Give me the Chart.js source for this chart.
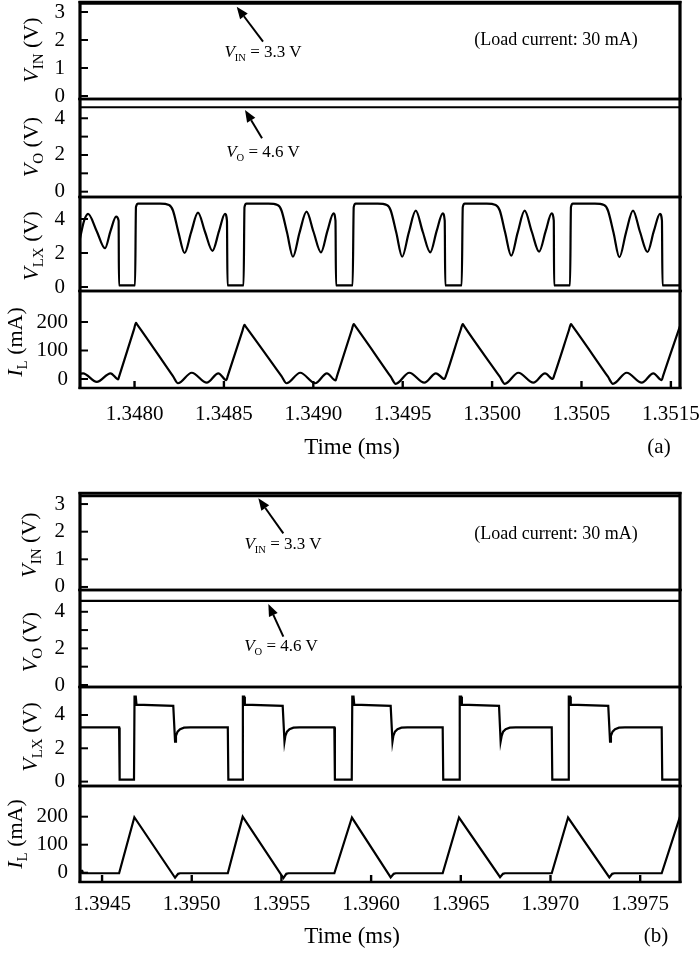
<!DOCTYPE html>
<html>
<head>
<meta charset="utf-8">
<script src="https://cdn.jsdelivr.net/npm/chart.js@4.4.1/dist/chart.umd.min.js"></script>
<style>
html,body{margin:0;padding:0;background:#fff;}
body{width:700px;height:953px;overflow:hidden;position:relative;font-family:"Liberation Serif","Times New Roman",serif;color:#000;}
canvas{position:absolute;left:0;}
.t{position:absolute;white-space:nowrap;line-height:1;transform:translate(-50%,-50%);z-index:5;}
.rot{transform:translate(-50%,-50%) rotate(-90deg);}
.sub{font-size:0.68em;font-style:normal;vertical-align:-0.3em;}
.sub2{font-size:0.62em;font-style:normal;vertical-align:-0.35em;}
</style>
</head>
<body>
<!-- axis titles (a) -->
<div class="t rot" style="left:33px;top:50px;font-size:22px"><i>V</i><span class="sub">IN</span> (V)</div>
<div class="t rot" style="left:33px;top:147px;font-size:22px"><i>V</i><span class="sub">O</span> (V)</div>
<div class="t rot" style="left:33px;top:246px;font-size:22px"><i>V</i><span class="sub">LX</span> (V)</div>
<div class="t rot" style="left:17px;top:342px;font-size:22px"><i>I</i><span class="sub">L</span> (mA)</div>
<!-- annotations (a) -->
<div class="t" style="left:263px;top:53px;font-size:17px"><i>V</i><span class="sub2">IN</span> = 3.3 V</div>
<div class="t" style="left:263px;top:153px;font-size:17px"><i>V</i><span class="sub2">O</span> = 4.6 V</div>
<div class="t" style="left:556px;top:39px;font-size:18px">(Load current: 30 mA)</div>
<div class="t" style="left:352px;top:446px;font-size:23px">Time (ms)</div>
<div class="t" style="left:659px;top:446px;font-size:21px">(a)</div>
<!-- axis titles (b) -->
<div class="t rot" style="left:31px;top:545px;font-size:22px"><i>V</i><span class="sub">IN</span> (V)</div>
<div class="t rot" style="left:32px;top:642px;font-size:22px"><i>V</i><span class="sub">O</span> (V)</div>
<div class="t rot" style="left:32px;top:737px;font-size:22px"><i>V</i><span class="sub">LX</span> (V)</div>
<div class="t rot" style="left:17px;top:834px;font-size:22px"><i>I</i><span class="sub">L</span> (mA)</div>
<!-- annotations (b) -->
<div class="t" style="left:283px;top:545px;font-size:17px"><i>V</i><span class="sub2">IN</span> = 3.3 V</div>
<div class="t" style="left:281px;top:647px;font-size:17px"><i>V</i><span class="sub2">O</span> = 4.6 V</div>
<div class="t" style="left:556px;top:533px;font-size:18px">(Load current: 30 mA)</div>
<div class="t" style="left:352px;top:935px;font-size:23px">Time (ms)</div>
<div class="t" style="left:656px;top:935px;font-size:21px">(b)</div>

<script>
// ---------------- DATA ----------------
// Panel (a) time span (ms) and DC levels
const timeSpanA = [1.347695, 1.351051];
const vinA = [3.3, 3.3];
const voA = [4.6, 4.6];

// Panel (a) switching node voltage V_LX (V)
const timeA_VLX = [
  1.347695, 1.347718, 1.347740, 1.347788, 1.347835, 1.347866, 1.347897, 1.347911, 1.347913,
  1.348003, 1.348008, 1.348020, 1.348143, 1.348193, 1.348215, 1.348246, 1.348280, 1.348316, 1.348355, 1.348394, 1.348436, 1.348473, 1.348506, 1.348517, 1.348520,
  1.348610, 1.348615, 1.348626, 1.348749, 1.348800, 1.348822, 1.348853, 1.348886, 1.348923, 1.348962, 1.349001, 1.349043, 1.349079, 1.349113, 1.349124, 1.349127,
  1.349220, 1.349226, 1.349237, 1.349360, 1.349411, 1.349433, 1.349464, 1.349497, 1.349534, 1.349573, 1.349612, 1.349654, 1.349690, 1.349724, 1.349735, 1.349738,
  1.349830, 1.349836, 1.349847, 1.349970, 1.350020, 1.350043, 1.350073, 1.350107, 1.350143, 1.350182, 1.350222, 1.350263, 1.350300, 1.350333, 1.350345, 1.350347,
  1.350436, 1.350441, 1.350452, 1.350575, 1.350626, 1.350648, 1.350679, 1.350712, 1.350749, 1.350788, 1.350827, 1.350869, 1.350905, 1.350939, 1.350950, 1.350953,
  1.351051
];
const vlxA = [
  2.86, 3.9, 4.3, 3.3, 2.28, 3.3, 4.14, 3.9, 0.1,
  0.1, 4.7, 4.9, 4.9, 4.82, 4.5, 3.2, 2.0, 3.2, 4.37, 3.25, 2.13, 3.3, 4.3, 3.9, 0.1,
  0.1, 4.7, 4.9, 4.9, 4.82, 4.5, 3.2, 1.78, 3.2, 4.43, 3.25, 2.04, 3.3, 4.33, 3.9, 0.1,
  0.1, 4.7, 4.9, 4.9, 4.82, 4.5, 3.2, 1.78, 3.2, 4.49, 3.25, 2.04, 3.3, 4.33, 3.9, 0.1,
  0.1, 4.7, 4.9, 4.9, 4.82, 4.5, 3.2, 1.84, 3.2, 4.49, 3.25, 2.08, 3.3, 4.33, 3.9, 0.1,
  0.1, 4.7, 4.9, 4.9, 4.82, 4.5, 3.2, 1.75, 3.2, 4.49, 3.25, 2.06, 3.3, 4.3, 3.9, 0.1,
  0.1
];

// Panel (a) inductor current I_L (mA)
const timeA_IL = [
  1.347695, 1.347712, 1.347789, 1.347866, 1.347909,
  1.347914, 1.347997, 1.348008, 1.348014, 1.348215, 1.348243, 1.348320, 1.348404, 1.348469,
  1.348514, 1.348521, 1.348604, 1.348615, 1.348621, 1.348822, 1.348850, 1.348927, 1.349011, 1.349076,
  1.349125, 1.349132, 1.349215, 1.349226, 1.349232, 1.349433, 1.349461, 1.349537, 1.349621, 1.349686,
  1.349734, 1.349742, 1.349824, 1.349836, 1.349841, 1.350043, 1.350071, 1.350147, 1.350231, 1.350296,
  1.350340, 1.350347, 1.350430, 1.350441, 1.350447, 1.350648, 1.350676, 1.350753, 1.350837, 1.350902,
  1.350949, 1.350956, 1.351051
];
const ilA = [
  18, 20, -10, 20, -1,
  9, 174, 197, 192, 10, -15, 22, -13, 20,
  -4, 10, 170, 190, 185, 10, -15, 22, -15, 20,
  -5, 9, 172, 193, 188, 8, -17, 22, -13, 20,
  0, 12, 172, 193, 188, 8, -17, 22, -13, 20,
  0, 12, 172, 193, 188, 8, -17, 22, -13, 20,
  -4, 10, 186
];

// Panel (b) time span (ms) and DC levels
const timeSpanB = [1.394377, 1.397722];
const vinB = [3.3, 3.3];
const voB = [4.6, 4.6];

// Panel (b) V_LX (V)
const timeB_VLX = [
  1.394377, 1.394595, 1.394598,
  1.394678, 1.394681, 1.394688, 1.394692, 1.394897, 1.394907, 1.394912, 1.394921, 1.394935, 1.394957, 1.394991, 1.395201, 1.395204,
  1.395282, 1.395285, 1.395292, 1.395296, 1.395507, 1.395517, 1.395522, 1.395531, 1.395545, 1.395567, 1.395600, 1.395795, 1.395798,
  1.395892, 1.395895, 1.395902, 1.395906, 1.396109, 1.396119, 1.396124, 1.396133, 1.396147, 1.396169, 1.396202, 1.396399, 1.396402,
  1.396492, 1.396494, 1.396502, 1.396506, 1.396713, 1.396722, 1.396728, 1.396736, 1.396750, 1.396773, 1.396806, 1.397007, 1.397010,
  1.397099, 1.397102, 1.397109, 1.397113, 1.397322, 1.397332, 1.397337, 1.397346, 1.397360, 1.397382, 1.397415, 1.397620, 1.397623,
  1.397722
];
const vlxB = [
  3.25, 3.25, 0.12,
  0.12, 5.1, 5.1, 4.62, 4.55, 2.4, 2.75, 3.0, 3.15, 3.24, 3.26, 3.26, 0.12,
  0.12, 5.1, 5.1, 4.62, 4.55, 2.4, 2.75, 3.0, 3.15, 3.24, 3.26, 3.26, 0.12,
  0.12, 5.1, 5.1, 4.62, 4.55, 2.4, 2.75, 3.0, 3.15, 3.24, 3.26, 3.26, 0.12,
  0.12, 5.1, 5.1, 4.62, 4.55, 2.4, 2.75, 3.0, 3.15, 3.24, 3.26, 3.26, 0.12,
  0.12, 5.1, 5.1, 4.62, 4.55, 2.4, 2.75, 3.0, 3.15, 3.24, 3.26, 3.26, 0.12,
  0.12
];

// Panel (b) I_L (mA)
const timeB_IL = [
  1.394377, 1.394389, 1.394391, 1.394595, 1.394680,
  1.394907, 1.394924, 1.394935, 1.395201, 1.395284,
  1.395511, 1.395527, 1.395539, 1.395795, 1.395893,
  1.396109, 1.396126, 1.396137, 1.396399, 1.396490,
  1.396719, 1.396735, 1.396746, 1.397007, 1.397098,
  1.397328, 1.397344, 1.397356, 1.397620, 1.397722
];
const ilB = [
  7, 7, -2, -2, 198,
  -18, -4, -2, -2, 200,
  -19, -4, -2, -2, 197,
  -17, -4, -2, -2, 197,
  -16, -4, -2, -2, 197,
  -17, -4, -2, -2, 200
];

// Tick values and labels
const xTicksA = [1.3480, 1.3485, 1.3490, 1.3495, 1.3500, 1.3505, 1.3510];
const xTickLabelsA = ['1.3480', '1.3485', '1.3490', '1.3495', '1.3500', '1.3505', '1.3515'];
const xTicksB = [1.3945, 1.3950, 1.3955, 1.3960, 1.3965, 1.3970, 1.3975];
const xTickLabelsB = ['1.3945', '1.3950', '1.3955', '1.3960', '1.3965', '1.3970', '1.3975'];
const vinTicks = [0, 1, 2, 3];
const vinTickLabels = ['0', '1', '2', '3'];
const voTicks = [0, 1, 2, 3, 4];
const voTickLabels = ['0', '', '2', '', '4'];
const vlxTicks = [0, 2, 4];
const vlxTickLabels = ['0', '2', '4'];
const ilTicks = [0, 100, 200];
const ilTickLabels = ['0', '100', '200'];

// ---------------- RENDERING ----------------
Chart.defaults.font.family = 'Liberation Serif';
Chart.defaults.color = '#000';

const framePlugin = {
  id: 'frame',
  afterDraw(chart, args, o) {
    const ctx = chart.ctx, a = chart.chartArea, xs = chart.scales.x, ys = chart.scales.y;
    ctx.save();
    ctx.strokeStyle = '#000';
    ctx.fillStyle = '#000';
    ctx.lineWidth = 2;
    for (const t of ys.ticks) {
      const p = ys.getPixelForValue(t.value);
      ctx.beginPath(); ctx.moveTo(a.left, p); ctx.lineTo(a.left + 8, p); ctx.stroke();
    }
    if (o.xTicks) {
      ctx.lineWidth = 2.4;
      for (const t of xs.ticks) {
        const p = xs.getPixelForValue(t.value);
        ctx.beginPath(); ctx.moveTo(p, a.bottom); ctx.lineTo(p, a.bottom - 7); ctx.stroke();
      }
    }
    ctx.lineWidth = 2.3;
    ctx.beginPath();
    ctx.moveTo(a.left - 1.5, a.top); ctx.lineTo(a.right + 1.5, a.top);
    ctx.moveTo(a.left - 1.5, a.bottom); ctx.lineTo(a.right + 1.5, a.bottom);
    ctx.stroke();
    ctx.lineWidth = 3.2;
    ctx.beginPath();
    ctx.moveTo(a.left, a.top - 1.1); ctx.lineTo(a.left, a.bottom + 1.1);
    ctx.moveTo(a.right, a.top - 1.1); ctx.lineTo(a.right, a.bottom + 1.1);
    ctx.stroke();
    if (o.arrow) {
      const [t0, v0, t1, v1] = o.arrow;
      const x0 = xs.getPixelForValue(t0), y0 = ys.getPixelForValue(v0);
      const x1 = xs.getPixelForValue(t1), y1 = ys.getPixelForValue(v1);
      const ang = Math.atan2(y1 - y0, x1 - x0), L = 12, W = 4.8;
      const bx = x1 - L * Math.cos(ang), by = y1 - L * Math.sin(ang);
      ctx.lineWidth = 2;
      ctx.beginPath(); ctx.moveTo(x0, y0); ctx.lineTo(bx, by); ctx.stroke();
      ctx.beginPath();
      ctx.moveTo(x1, y1);
      ctx.lineTo(bx + W * Math.sin(ang), by - W * Math.cos(ang));
      ctx.lineTo(bx - W * Math.sin(ang), by + W * Math.cos(ang));
      ctx.closePath(); ctx.fill();
    }
    ctx.restore();
  }
};

function series(xs, ys, extra) {
  return Object.assign({
    data: xs.map((x, i) => ({ x: x, y: ys[i] })),
    borderColor: '#000', borderWidth: 2.2, pointRadius: 0, fill: false, tension: 0
  }, extra || {});
}

const PAD = 40;      // canvas margin above/below each plot area (px)
const CANVAS_W = 760;

function subplot(p) {
  const h = PAD + (p.bottom - p.top) + (p.bottomAxis ? p.xAxisH : PAD);
  const cv = document.createElement('canvas');
  cv.width = CANVAS_W; cv.height = h;
  cv.style.cssText = 'position:absolute;left:0;top:' + (p.top - PAD) + 'px;width:' + CANVAS_W + 'px;height:' + h + 'px;';
  document.body.appendChild(cv);
  new Chart(cv, {
    type: 'line',
    data: { datasets: p.datasets },
    options: {
      responsive: false, animation: false, events: [],
      layout: { padding: { top: PAD, bottom: p.bottomAxis ? 0 : PAD, left: 0, right: CANVAS_W - 680 } },
      plugins: { legend: { display: false }, tooltip: { enabled: false },
                 frame: { xTicks: !!p.bottomAxis, arrow: p.arrow || null } },
      scales: {
        x: {
          type: 'linear', min: p.xmin, max: p.xmax, display: !!p.bottomAxis,
          grid: { display: false, drawTicks: false }, border: { display: false },
          afterBuildTicks: s => { s.ticks = p.xTicks.map(v => ({ value: v })); },
          afterFit: s => { if (p.bottomAxis) s.height = p.xAxisH; },
          ticks: { autoSkip: false, maxRotation: 0, minRotation: 0, padding: p.xPad || 0,
                   font: { size: 21 }, color: '#000', callback: (v, i) => p.xLabels[i] }
        },
        y: {
          type: 'linear', min: p.ymin, max: p.ymax,
          grid: { display: false, drawTicks: false }, border: { display: false },
          afterBuildTicks: s => { s.ticks = p.yTicks.map(v => ({ value: v })); },
          afterFit: s => { s.width = 80; },
          ticks: { autoSkip: false, padding: p.yPad, font: { size: 21 }, color: '#000',
                   callback: (v, i) => p.yLabels[i] }
        }
      }
    },
    plugins: [framePlugin]
  });
}

// ----- Panel (a) -----
const commonA = { xmin: timeSpanA[0], xmax: timeSpanA[1], xTicks: xTicksA, xLabels: xTickLabelsA };
subplot(Object.assign({}, commonA, {
  top: 2, bottom: 99, ymin: -0.107, ymax: 3.357, yTicks: vinTicks, yLabels: vinTickLabels, yPad: 15,
  datasets: [series(timeSpanA, vinA)],
  arrow: [1.3487187, 1.939, 1.3485716, 3.19]
}));
subplot(Object.assign({}, commonA, {
  top: 99, bottom: 197, ymin: -0.29, ymax: 5.05, yTicks: voTicks, yLabels: voTickLabels, yPad: 15,
  datasets: [series(timeSpanA, voA)],
  arrow: [1.3487131, 2.908, 1.348618, 4.45]
}));
subplot(Object.assign({}, commonA, {
  top: 197, bottom: 291, ymin: -0.235, ymax: 5.294, yTicks: vlxTicks, yLabels: vlxTickLabels, yPad: 15,
  datasets: [series(timeA_VLX, vlxA, { cubicInterpolationMode: 'monotone' })]
}));
subplot(Object.assign({}, commonA, {
  top: 291, bottom: 388, ymin: -31.6, ymax: 308.8, yTicks: ilTicks, yLabels: ilTickLabels, yPad: 12,
  datasets: [series(timeA_IL, ilA, { cubicInterpolationMode: 'monotone' })],
  bottomAxis: true, xAxisH: 60, xPad: 14
}));

// ----- Panel (b) -----
const commonB = { xmin: timeSpanB[0], xmax: timeSpanB[1], xTicks: xTicksB, xLabels: xTickLabelsB };
subplot(Object.assign({}, commonB, {
  top: 493, bottom: 590, ymin: -0.11, ymax: 3.4, yTicks: vinTicks, yLabels: vinTickLabels, yPad: 15,
  datasets: [series(timeSpanB, vinB, { borderWidth: 3 })],
  arrow: [1.3955106, 1.94, 1.3953712, 3.21]
}));
subplot(Object.assign({}, commonB, {
  top: 590, bottom: 687, ymin: -0.11, ymax: 5.19, yTicks: voTicks, yLabels: voTickLabels, yPad: 15,
  datasets: [series(timeSpanB, voB)],
  arrow: [1.3955106, 2.638, 1.395427, 4.425]
}));
subplot(Object.assign({}, commonB, {
  top: 687, bottom: 786, ymin: -0.264, ymax: 5.68, yTicks: vlxTicks, yLabels: vlxTickLabels, yPad: 15,
  datasets: [series(timeB_VLX, vlxB)]
}));
subplot(Object.assign({}, commonB, {
  top: 786, bottom: 882, ymin: -33.2, ymax: 309.6, yTicks: ilTicks, yLabels: ilTickLabels, yPad: 12,
  datasets: [series(timeB_IL, ilB)],
  bottomAxis: true, xAxisH: 50, xPad: 10
}));
</script>
</body>
</html>
